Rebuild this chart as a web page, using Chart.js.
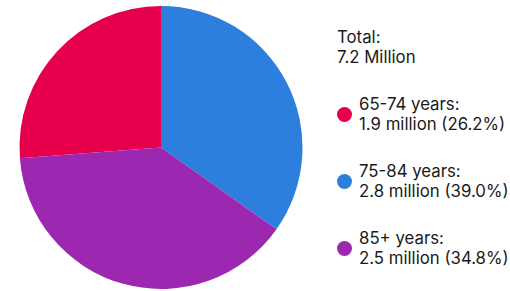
<!DOCTYPE html>
<html>
<head>
<meta charset="utf-8">
<script src="https://cdn.jsdelivr.net/npm/chart.js@4.4.1/dist/chart.umd.min.js"></script>
<style>
    html, body {
        margin: 0;
        padding: 0;
        background: #ffffff;
        width: 510px;
        height: 291px;
        overflow: hidden;
        font-family: Inter, "Noto Sans", sans-serif;
    }

    #pieWrap {
        position: absolute;
        left: 0;
        top: 0;
        width: 322px;
        height: 291px;
    }

    #legend {
        position: absolute;
        left: 337px;
        top: 27px;
        color: #1a1a1a;
        font-size: 16.8px;
        line-height: 20px;
    }

    .legend-block {
        margin-bottom: 27px;
        white-space: nowrap;
    }

    .legend-item {
        display: flex;
        align-items: center;
    }

    .legend-dot {
        width: 15px;
        height: 15px;
        border-radius: 50%;
        margin-right: 7px;
        flex: none;
    }
</style>
</head>
<body>
<div id="pieWrap"><canvas id="pieChart"></canvas></div>
<div id="legend"></div>

<script>
// Data
const totalLabel = '7.2 Million';
const groups = ['65-74 years', '75-84 years', '85+ years'];
const millions = [1.9, 2.8, 2.5];
const shares = [26.2, 39.0, 34.8];
const colors = ['#E6004C', '#2D7FDE', '#9C27B0'];
// slice sizes as they are drawn in the picture (blue and purple look swapped vs. the legend)
const sliceValues = [26.2, 34.8, 39.0];

// Legend (HTML)
const legend = document.getElementById('legend');
let html = `<div class="legend-block">Total:<br>${totalLabel}</div>`;
groups.forEach((g, i) => {
    html += `
        <div class="legend-block legend-item">
            <span class="legend-dot" style="background:${colors[i]}"></span>
            <span>${g}:<br>${millions[i].toFixed(1)} million (${shares[i].toFixed(1)}%)</span>
        </div>`;
});
legend.innerHTML = html;

// Pie - red slice ends at 12 o'clock, then clockwise blue, purple
const sliceTotal = sliceValues.reduce((a, b) => a + b, 0);

new Chart(document.getElementById('pieChart'), {
    type: 'pie',
    data: {
        labels: groups,
        datasets: [{
            data: sliceValues,
            backgroundColor: colors,
            borderWidth: 0
        }]
    },
    options: {
        responsive: true,
        maintainAspectRatio: false,
        animation: false,
        rotation: -sliceValues[0] / sliceTotal * 360,
        layout: {
            padding: { top: 6, bottom: 2, left: 0, right: 0 }
        },
        plugins: {
            legend: { display: false },
            tooltip: { enabled: false }
        }
    }
});
</script>
</body>
</html>
